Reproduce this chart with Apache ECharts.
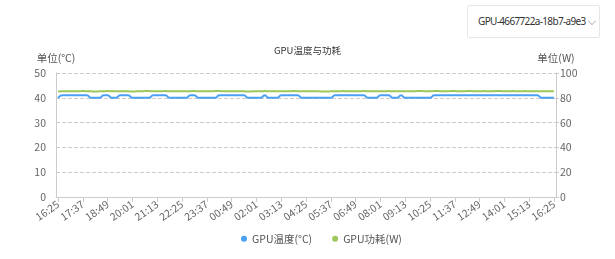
<!DOCTYPE html>
<html><head><meta charset="utf-8">
<script src="https://cdn.jsdelivr.net/npm/echarts@6/dist/echarts.min.js"></script>
<style>
html,body{margin:0;padding:0;background:#fff;}
#wrap{position:relative;width:615px;height:259px;}
#chart{position:absolute;left:0;top:0;width:615px;height:259px;}
#sel{position:absolute;left:467px;top:5px;width:133px;height:33px;border:1px solid #e6e6e6;border-radius:2px;background:#fff;
font-family:"Noto Sans","Noto Sans CJK SC",sans-serif;font-size:10px;letter-spacing:-0.65px;color:#333;line-height:31px;box-sizing:border-box;padding-left:10px;white-space:nowrap;z-index:2}
#sel i{position:absolute;left:121px;top:12px;width:5px;height:5px;border-right:1px solid #c4c4c4;border-bottom:1px solid #c4c4c4;transform:rotate(45deg);}
</style></head>
<body><div id="wrap"><div id="chart"></div><div id="sel">GPU-4667722a-18b7-a9e3<i></i></div></div>
<script>
var title = 'GPU温度与功耗';
var seriesNames = ['GPU温度(°C)', 'GPU功耗(W)'];
var startTime = [16, 25];
var stepMinutes = 12;
var pointCount = 121;
var tempValues = [
40,41,41,41,41,41,41,41,40,40,
40,41,41,40,40,41,41,41,40,40,
40,40,40,41,41,41,41,40,40,40,
40,40,41,41,40,40,40,40,40,41,
41,41,41,41,41,41,40,40,40,40,
41,40,40,40,41,41,41,41,41,40,
40,40,40,40,40,40,40,41,41,41,
41,41,41,41,41,40,40,40,41,41,
41,40,40,41,40,40,40,40,40,40,
40,41,41,41,41,41,41,41,41,41,
41,41,41,41,41,41,41,41,41,41,
41,41,41,41,41,41,41,40,40,40,
40];
var powerValues = [
85.1,85.2,85.3,85.3,85.2,85.3,85.4,85.3,85.2,85.1,
85.2,85.3,85.4,85.3,85.2,85.2,85.3,85.2,85.1,85.2,
85.3,85.4,85.4,85.3,85.2,85.3,85.4,85.3,85.3,85.2,
85.2,85.3,85.3,85.4,85.3,85.2,85.2,85.3,85.4,85.4,
85.3,85.2,85.2,85.3,85.3,85.2,85.1,85.2,85.3,85.3,
85.4,85.3,85.2,85.3,85.3,85.2,85.3,85.4,85.3,85.2,
85.2,85.3,85.3,85.2,85.1,85.1,85.2,85.3,85.3,85.4,
85.3,85.2,85.2,85.3,85.4,85.3,85.3,85.2,85.2,85.3,
85.4,85.3,85.3,85.2,85.2,85.3,85.3,85.4,85.4,85.3,
85.3,85.4,85.4,85.3,85.3,85.4,85.4,85.3,85.3,85.4,
85.4,85.3,85.3,85.4,85.3,85.3,85.4,85.4,85.3,85.3,
85.4,85.3,85.3,85.4,85.3,85.3,85.2,85.2,85.3,85.2,
85.2];
var leftAxis = {name:'单位(°C)', min:0, max:50, interval:10};
var rightAxis = {name:'单位(W)', min:0, max:100, interval:20};

var categories = [];
for (var i = 0; i < pointCount; i++) {
  var m = startTime[0]*60 + startTime[1] + i*stepMinutes;
  m = m % 1440;
  var h = Math.floor(m/60), mm = m%60;
  categories.push((h<10?'0':'')+h+':'+(mm<10?'0':'')+mm);
}

var FONT = '"Noto Sans CJK SC","Noto Sans",sans-serif';
var chart = echarts.init(document.getElementById('chart'), null, {renderer:'canvas'});
chart.setOption({
  animation:false,
  textStyle:{fontFamily:FONT},
  color:['#4aa0f4','#9dc75b'],
  title:{text:title, left:'center', top:41, textStyle:{fontSize:9.5, fontWeight:'normal', color:'#333', fontFamily:FONT}},
  legend:{bottom:10, left:236, icon:'circle', itemWidth:6, itemHeight:6, itemGap:20,
    textStyle:{fontSize:10.5, color:'#555', fontFamily:FONT}, data:seriesNames},
  grid:{left:56, right:59, top:73, bottom:62},
  xAxis:{type:'category', data:categories, boundaryGap:true,
    axisLine:{lineStyle:{color:'#ccc'}},
    axisTick:{show:true, interval:5, alignWithLabel:true, lineStyle:{color:'#ccc'}},
    axisLabel:{interval:5, rotate:35, fontSize:10.5, color:'#666', margin:6, fontFamily:FONT}},
  yAxis:[
    {type:'value', name:leftAxis.name, min:leftAxis.min, max:leftAxis.max, interval:leftAxis.interval,
     nameGap:10, nameTextStyle:{fontSize:10.5, color:'#555', align:'center'},
     axisLine:{show:true, lineStyle:{color:'#ccc'}}, axisTick:{show:false},
     axisLabel:{fontSize:10.5, color:'#666', margin:10},
     splitLine:{lineStyle:{type:'dashed', color:'#ccc'}}},
    {type:'value', name:rightAxis.name, min:rightAxis.min, max:rightAxis.max, interval:rightAxis.interval,
     nameGap:10, nameTextStyle:{fontSize:10.5, color:'#555', align:'center'},
     axisLine:{show:true, lineStyle:{color:'#ccc'}}, axisTick:{show:true, length:3, lineStyle:{color:'#ccc'}},
     axisLabel:{fontSize:10.5, color:'#666', margin:4},
     splitLine:{show:false}}
  ],
  series:[
    {name:seriesNames[0], type:'line', yAxisIndex:0, data:tempValues, smooth:true, showSymbol:false, symbol:'circle', lineStyle:{width:2}},
    {name:seriesNames[1], type:'line', yAxisIndex:1, data:powerValues, smooth:true, showSymbol:false, symbol:'circle', lineStyle:{width:2}}
  ]
});
</script></body></html>
